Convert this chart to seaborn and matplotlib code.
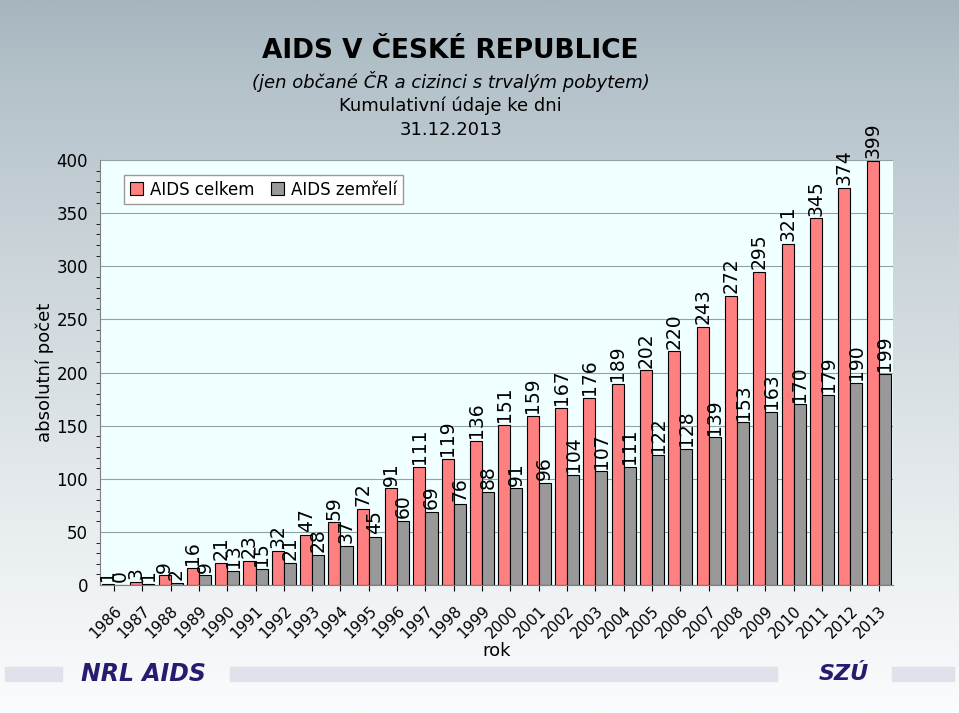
import numpy as np
import pandas as pd
import matplotlib
matplotlib.use("Agg")
import matplotlib.pyplot as plt
from matplotlib.patches import Rectangle
from matplotlib.ticker import MultipleLocator
import seaborn as sns

years = [str(y) for y in range(1986, 2014)]
celkem = [1, 3, 9, 16, 21, 23, 32, 47, 59, 72, 91, 111, 119, 136, 151, 159,
          167, 176, 189, 202, 220, 243, 272, 295, 321, 345, 374, 399]
zemreli = [0, 1, 2, 9, 13, 15, 21, 28, 37, 45, 60, 69, 76, 88, 91, 96,
           104, 107, 111, 122, 128, 139, 153, 163, 170, 179, 190, 199]
series = ["AIDS celkem", "AIDS zemřelí"]

df = pd.DataFrame({"rok": years * 2,
                   "pocet": celkem + zemreli,
                   "serie": [series[0]] * len(years) + [series[1]] * len(years)})

sns.set_style("white")
plt.rcParams["font.family"] = ["DejaVu Sans"]
plt.rcParams["text.color"] = "black"
plt.rcParams["axes.labelcolor"] = "black"
plt.rcParams["xtick.color"] = "black"
plt.rcParams["ytick.color"] = "black"

fig = plt.figure(figsize=(9.59, 7.13), dpi=100)

# gradient background of the slide
bg = fig.add_axes([0, 0, 1, 1], zorder=-10)
grad = np.linspace(0, 1, 256).reshape(-1, 1)
top = np.array([165, 181, 190]) / 255
bot = np.array([250, 252, 253]) / 255
img = top + (bot - top) * grad[..., None] ** 0.8
bg.imshow(img, aspect="auto", extent=[0, 1, 0, 1], origin="upper")
bg.axis("off")

ax = fig.add_axes([0.104, 0.1795, 0.827, 0.596])
ax.set_facecolor("#f0ffff")
sns.barplot(data=df, x="rok", y="pocet", hue="serie", ax=ax,
            palette=["#ff8080", "#999999"], edgecolor="black", linewidth=0.8,
            width=0.85, saturation=1)

for cont in ax.containers:
    ax.bar_label(cont, rotation=90, fontsize=13.5, padding=2, color="black")

ax.set_ylim(0, 400)
ax.yaxis.set_major_locator(MultipleLocator(50))
ax.yaxis.set_minor_locator(MultipleLocator(10))
ax.tick_params(axis="y", which="major", length=5, labelsize=12)
ax.tick_params(axis="y", which="minor", length=3, left=True)
ax.tick_params(axis="x", length=4, bottom=True, labelsize=11, pad=9)
ax.grid(axis="y", color="#8fa3a3", linewidth=0.8)
ax.set_axisbelow(True)
plt.setp(ax.get_xticklabels(), rotation=45, ha="right", rotation_mode="anchor")
for s in ["top", "right"]:
    ax.spines[s].set_visible(False)
for s in ["left", "bottom"]:
    ax.spines[s].set_color("#808080")

ax.set_xlabel("rok", fontsize=13)
ax.xaxis.set_label_coords(0.5, -0.155)
ax.xaxis.label.set_va("center")
ax.set_ylabel("absolutní počet", fontsize=13, labelpad=2)

ax.legend(loc="upper left", ncol=2, fontsize=12, frameon=True, fancybox=False,
          edgecolor="#999999", handlelength=0.8, handleheight=0.8,
          columnspacing=1.0, handletextpad=0.4, bbox_to_anchor=(0.02, 0.985),
          borderpad=0.35, framealpha=1)

fig.text(0.47, 0.928, "AIDS V ČESKÉ REPUBLICE", ha="center", va="center",
         fontsize=19, fontweight="bold")
fig.text(0.47, 0.885, "(jen občané ČR a cizinci s trvalým pobytem)",
         ha="center", va="center", fontsize=13, style="italic")
fig.text(0.47, 0.851, "Kumulativní údaje ke dni", ha="center", va="center",
         fontsize=13)
fig.text(0.47, 0.817, "31.12.2013", ha="center", va="center", fontsize=13)

# footer logos
fig.patches.append(Rectangle((0.005, 0.045), 0.06, 0.02, transform=fig.transFigure,
                             color="#dfe2ea", zorder=-5))
fig.patches.append(Rectangle((0.24, 0.045), 0.57, 0.02, transform=fig.transFigure,
                             color="#dfe2ea", zorder=-5))
fig.patches.append(Rectangle((0.93, 0.045), 0.065, 0.02, transform=fig.transFigure,
                             color="#dfe2ea", zorder=-5))
fig.text(0.15, 0.055, "NRL AIDS", ha="center", va="center", fontsize=17,
         fontweight="bold", style="italic", color="#241c6e")
fig.text(0.88, 0.055, "SZÚ", ha="center", va="center", fontsize=16,
         fontweight="bold", style="italic", color="#241c6e")

fig.savefig("out.png", dpi=100)
